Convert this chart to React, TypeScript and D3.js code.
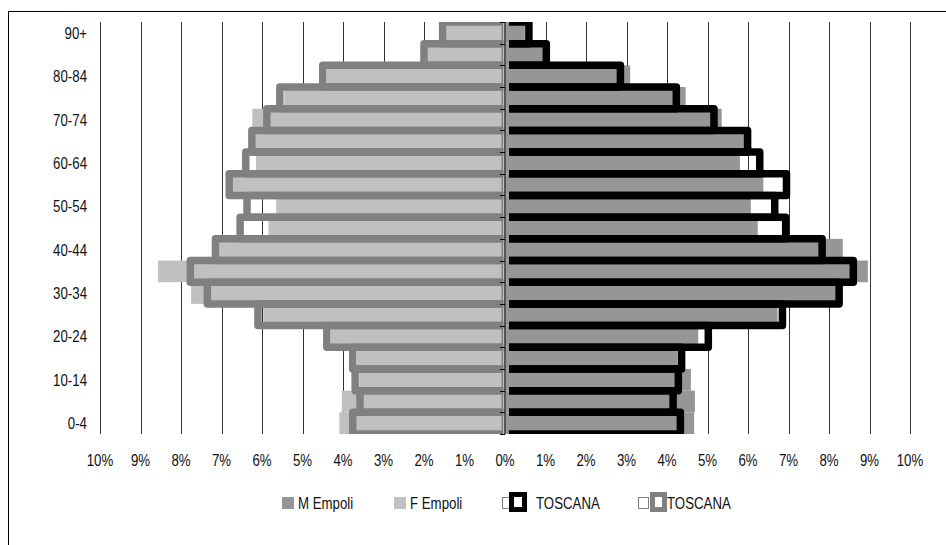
import React from "react";
import * as d3 from "d3";

const ages = ["0-4","5-9","10-14","15-19","20-24","25-29","30-34","35-39","40-44","45-49","50-54","55-59","60-64","65-69","70-74","75-79","80-84","85-89","90+"];
const ageLabels = ["0-4","10-14","20-24","30-34","40-44","50-54","60-64","70-74","80-84","90+"];
const mEmpoli = [4.67,4.69,4.59,4.26,4.77,6.73,8.17,8.96,8.34,6.24,6.07,6.38,5.80,5.91,5.35,4.46,3.09,0.95,0.49];
const fEmpoli = [4.09,4.03,3.60,3.66,4.30,5.97,7.75,8.57,7.06,5.84,5.65,6.73,6.15,6.17,6.24,5.45,4.40,1.95,1.45];
const mToscana = [4.33,4.15,4.28,4.36,5.02,6.85,8.25,8.60,7.83,6.93,6.66,6.95,6.29,5.99,5.16,4.23,2.85,1.02,0.59];
const fToscana = [3.76,3.58,3.70,3.76,4.40,6.10,7.35,7.77,7.15,6.54,6.37,6.81,6.40,6.25,5.88,5.56,4.50,2.00,1.54];
const xTicks = [-10,-9,-8,-7,-6,-5,-4,-3,-2,-1,0,1,2,3,4,5,6,7,8,9,10];
const legendItems = ["M Empoli","F Empoli","TOSCANA","TOSCANA"];

const W = 946, H = 545;
const FONT = "'Liberation Sans', Arial, sans-serif";
const SX = 0.78;

function NText({ x, y, anchor = "start", children }: { x: number; y: number; anchor?: string; children: React.ReactNode }) {
  return (
    <text transform={`translate(${x},${y}) scale(${SX},1)`} textAnchor={anchor} fontSize={17} fill="#111" fontFamily={FONT}>
      {children}
    </text>
  );
}

export default function App() {
  const x = d3.scaleLinear().domain([-10, 10]).range([100, 910]);
  const y = d3.scaleBand<string>().domain([...ages].reverse()).range([22, 434]).padding(0);
  const cx = x(0);
  const top = 22, bottom = 434;
  const bw = y.bandwidth();
  const sw = 7.5;

  return (
    <svg width={W} height={H} style={{ position: "absolute", left: 0, top: 0, background: "#fff" }}>
      <defs>
        <clipPath id="clipL"><rect x={0} y={top} width={cx - 1.5} height={bottom - top} /></clipPath>
        <clipPath id="clipR"><rect x={cx + 4} y={top} width={W} height={bottom - top} /></clipPath>
      </defs>
      <rect x={0} y={0} width={W} height={H} fill="#fff" />
      {/* frame */}
      <line x1={8.5} y1={11.5} x2={8.5} y2={H} stroke="#000" />
      <line x1={8.5} y1={11.5} x2={W} y2={11.5} stroke="#000" />
      {/* gridlines */}
      {xTicks.filter(t => t !== 0).map(t => (
        <line key={"g" + t} x1={Math.round(x(t)) + 0.5} x2={Math.round(x(t)) + 0.5} y1={top} y2={bottom} stroke="#333" strokeWidth={1} />
      ))}
      {/* Empoli bars */}
      {ages.map((a, i) => (
        <g key={"e" + a}>
          <rect x={cx + 1} y={y(a)} width={x(mEmpoli[i]) - cx - 1} height={bw} fill="#969696" />
          <rect x={x(-fEmpoli[i])} y={y(a)} width={cx - 4 - x(-fEmpoli[i])} height={bw} fill="#c0c0c0" />
        </g>
      ))}
      {/* Toscana bars */}
      <g clipPath="url(#clipR)">
        {ages.map((a, i) => (
          <rect key={"tm" + a} x={cx} y={y(a)} width={x(mToscana[i]) - cx} height={bw} fill="none" stroke="#000" strokeWidth={sw} strokeLinejoin="round" />
        ))}
      </g>
      <g clipPath="url(#clipL)">
        {ages.map((a, i) => (
          <rect key={"tf" + a} x={x(-fToscana[i])} y={y(a)} width={cx - x(-fToscana[i])} height={bw} fill="none" stroke="#808080" strokeWidth={sw} strokeLinejoin="round" />
        ))}
      </g>
      {/* center axis */}
      <line x1={cx} x2={cx} y1={top} y2={bottom} stroke="#555" strokeWidth={2} />
      {ages.concat(["end"]).map((a, i) => {
        const yy = Math.round(top + i * bw) + 0.5;
        return <line key={"tk" + i} x1={cx - 5} x2={cx} y1={yy} y2={yy} stroke="#000" strokeWidth={1} />;
      })}
      {/* y labels */}
      {ageLabels.map(l => (
        <NText key={"yl" + l} x={87} y={(y(l) as number) + bw / 2 + 6} anchor="end">{l}</NText>
      ))}
      {/* x labels */}
      {xTicks.map(t => (
        <NText key={"xl" + t} x={x(t)} y={466} anchor="middle">{Math.abs(t) + "%"}</NText>
      ))}
      {/* legend */}
      <rect x={282} y={497} width={12} height={12} fill="#969696" />
      <NText x={298} y={509}>{legendItems[0]}</NText>
      <rect x={394} y={497} width={12} height={12} fill="#c0c0c0" />
      <NText x={410} y={509}>{legendItems[1]}</NText>
      <rect x={502.5} y={497.5} width={10} height={11} fill="#fff" stroke="#808080" />
      <rect x={511.5} y={494.5} width={13} height={15} fill="#fff" stroke="#000" strokeWidth={5} />
      <NText x={536} y={509}>{legendItems[2]}</NText>
      <rect x={638.5} y={497.5} width={10} height={11} fill="#fff" stroke="#808080" />
      <rect x={652.5} y={494.5} width={12} height={15} fill="#fff" stroke="#808080" strokeWidth={5} />
      <NText x={667} y={509}>{legendItems[3]}</NText>
    </svg>
  );
}
